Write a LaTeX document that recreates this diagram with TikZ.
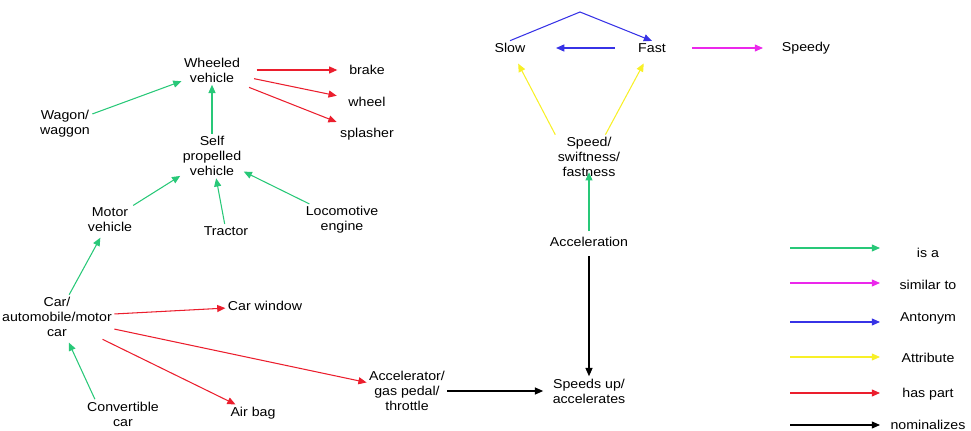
\documentclass[tikz,border=0pt]{standalone}
\usepackage{fontspec}
\setmainfont{Liberation Sans}[FakeStretch=1.1]
\usetikzlibrary{arrows.meta}

\definecolor{isagreen}{RGB}{40,200,120}
\definecolor{partred}{RGB}{235,30,45}
\definecolor{antblue}{RGB}{55,50,230}
\definecolor{attryellow}{RGB}{248,240,40}
\definecolor{simmagenta}{RGB}{235,40,235}

\tikzset{
  word/.style={font=\fontsize{11}{12.8}\selectfont, align=center, inner sep=2pt},
  rel/.style={-{Triangle[length=7pt,width=6pt]}, line width=0.9pt},
  isa/.style={rel, draw=isagreen},
  haspart/.style={rel, draw=partred},
  antonym/.style={rel, draw=antblue},
  attribute/.style={rel, draw=attryellow},
  similar/.style={rel, draw=simmagenta},
  nominal/.style={rel, draw=black}
}

\begin{document}
\begin{tikzpicture}[x=0.03cm, y=-0.03cm]

  \useasboundingbox (0,0) rectangle (971,431);

  % vehicle part
  \node[word] (wheeled) at (212,70) {Wheeled\\vehicle};
  \node[word] (brake) at (367,70) {brake};
  \node[word] (wheel) at (367,102) {wheel};
  \node[word] (splasher) at (367,134) {splasher};
  \node[word] (wagon) at (65,124) {Wagon/\\waggon};
  \node[word] (selfprop) at (212,156) {Self\\propelled\\vehicle};
  \node[word] (motor) at (110,220) {Motor\\vehicle};
  \node[word] (tractor) at (226,231) {Tractor};
  \node[word] (loco) at (342,220) {Locomotive\\engine};
  \node[word] (car) at (57,317) {Car/\\automobile/motor\\car};
  \node[word] (window) at (265,306) {Car window};
  \node[word] (convertible) at (123,414) {Convertible\\car};
  \node[word] (airbag) at (253,413) {Air bag};
  \node[word] (pedal) at (407,391) {Accelerator/\\gas pedal/\\throttle};

  % speed part
  \node[word] (speedsup) at (589,391) {Speeds up/\\accelerates};
  \node[word] (accel) at (589,242) {Acceleration};
  \node[word] (speed) at (589,157) {Speed/\\swiftness/\\fastness};
  \node[word] (slow) at (510,48) {Slow};
  \node[word] (fast) at (652,48) {Fast};
  \node[word] (speedy) at (806,48) {Speedy};
  \coordinate (apex) at (580,12);

  \draw[isa] (wagon) -- (wheeled);
  \draw[isa] (selfprop) -- (wheeled);
  \draw[haspart, shorten <=12pt, shorten >=8pt] (wheeled.east) -- (brake);
  \draw[haspart, shorten <=10pt, shorten >=8pt] (wheeled) -- (wheel);
  \draw[haspart, shorten <=6pt, shorten >=8pt] (wheeled.south east) -- (splasher);
  \draw[isa] (motor) -- (selfprop);
  \draw[isa] (tractor) -- (selfprop);
  \draw[isa] (loco) -- (selfprop);
  \draw[isa, shorten >=3pt] (car) -- (motor);
  \draw[isa, shorten >=3pt] ([xshift=-24pt]convertible.north) -- (car);
  \draw[haspart] (car) -- (window);
  \draw[haspart] (car) -- (airbag);
  \draw[haspart] (car) -- (pedal);
  \draw[nominal, shorten >=6pt] (pedal) -- (speedsup);
  \draw[nominal, shorten <=6pt] (accel) -- (speedsup);
  \draw[isa, shorten <=3pt, shorten >=-6pt] (accel) -- (speed.south);
  \draw[attribute, shorten >=8pt] (speed.north west) -- (slow);
  \draw[attribute, shorten >=8pt] ([xshift=14pt]speed.north) -- (fast);
  \draw[antonym, shorten <=18pt, shorten >=24pt] (fast) -- (slow);
  \draw[antonym] (slow.north) -- (apex) -- (fast.north);
  \draw[similar, shorten <=20pt, shorten >=14pt] (fast) -- (speedy);

  % legend
  \foreach \sty/\y/\txt/\ty [count=\i] in
      {isa/248/is a/253, similar/283/similar to/285, antonym/322/Antonym/318,
       attribute/357/Attribute/358, haspart/393/has part/394, nominal/425/nominalizes/425} {
    \coordinate (ls\i) at (790,\y);
    \coordinate (le\i) at (880,\y);
    \draw[\sty] (ls\i) -- (le\i);
    \node[word] (lab\i) at (928,\ty) {\txt};
  }

\end{tikzpicture}
\end{document}
